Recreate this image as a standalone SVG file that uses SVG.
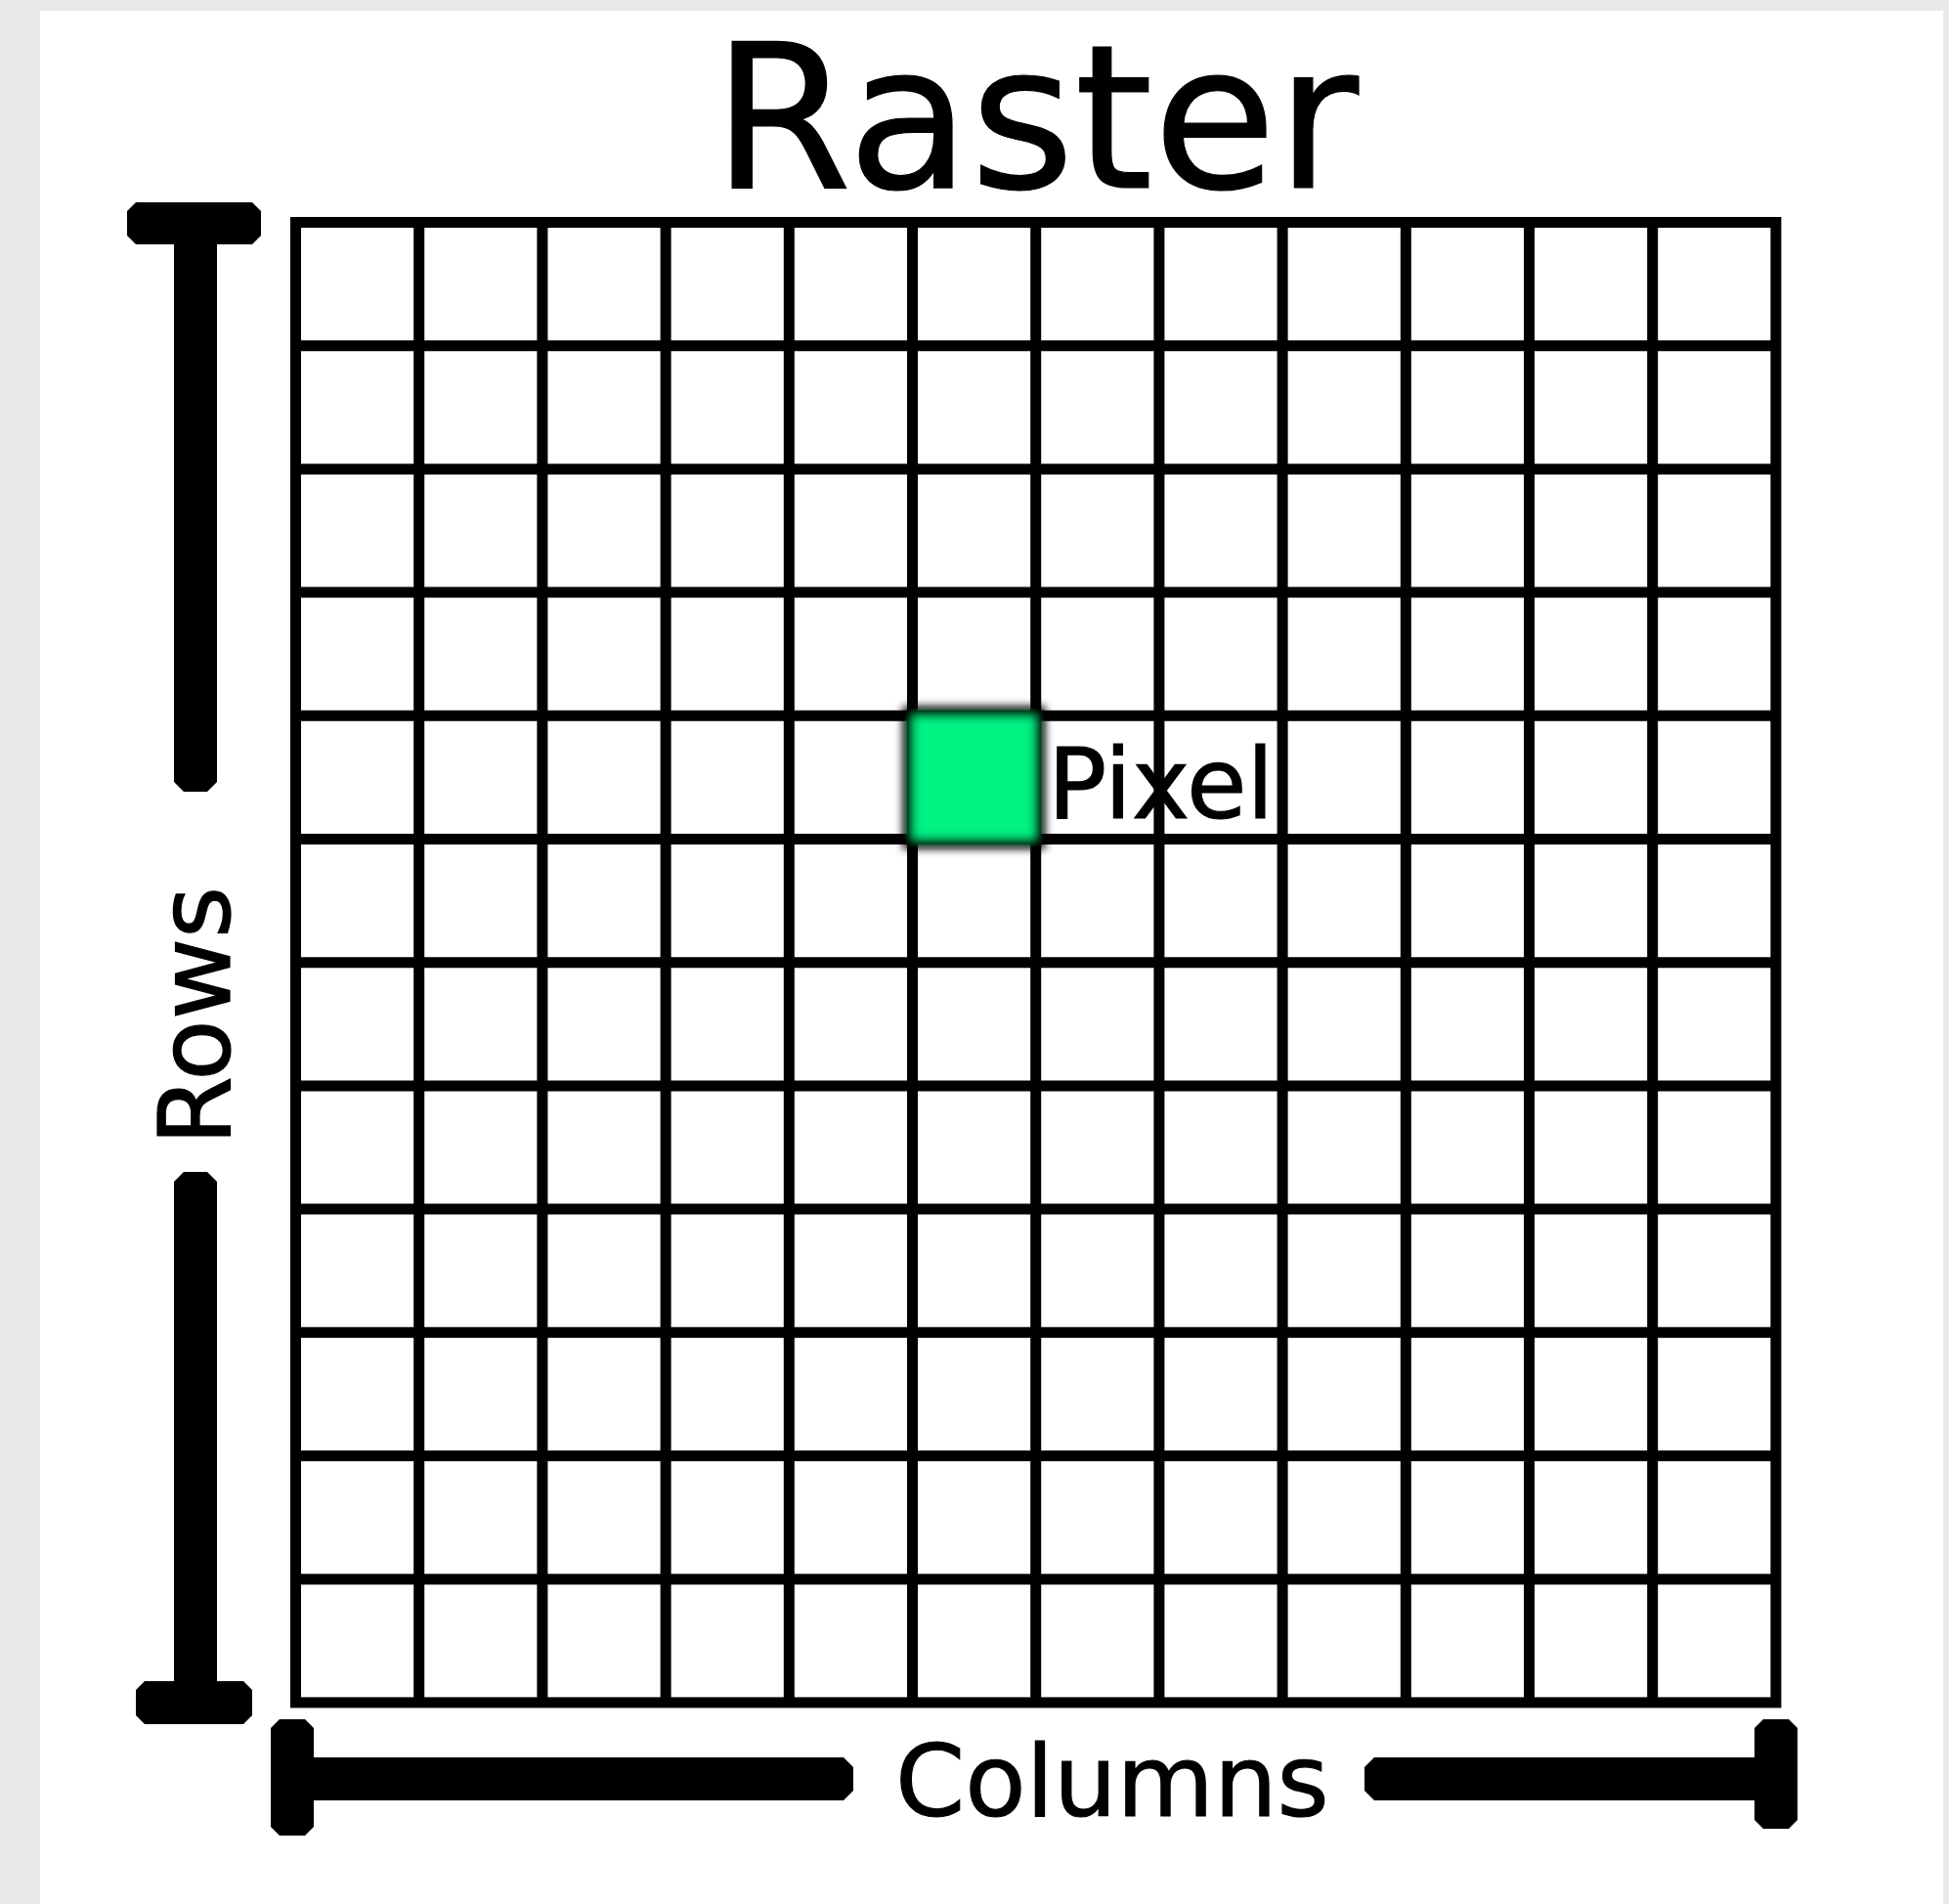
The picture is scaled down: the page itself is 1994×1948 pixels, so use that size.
<svg xmlns="http://www.w3.org/2000/svg" width="1994" height="1948" viewBox="0 0 1994 1948">
  <defs>
    <style>
      .lbl { font-family: "DejaVu Sans", "Liberation Sans", sans-serif; fill: #000; stroke: #000; stroke-width: 1.2; }
      .grid { fill: none; stroke: #000; stroke-width: 11; }
      .bar { fill: #000; stroke: none; }
    </style>
    <filter id="soft" x="-20%" y="-20%" width="140%" height="140%">
      <feGaussianBlur stdDeviation="4.5"/>
    </filter>
  </defs>
  <rect x="0" y="0" width="1994" height="1948" fill="#e9e9e9"/>
  <rect x="41" y="11" width="1947" height="1937" fill="#ffffff"/>

  <g id="title">
    <text class="lbl" x="729" y="192" font-size="205">Raster</text>
  </g>

  <g id="grid">
    <rect class="grid" x="302.5" y="227.5" width="1514.4" height="1514.4"/>
    <path class="grid" d="M428.7 227.5V1741.9 M554.9 227.5V1741.9 M681.1 227.5V1741.9 M807.3 227.5V1741.9 M933.5 227.5V1741.9 M1059.7 227.5V1741.9 M1185.9 227.5V1741.9 M1312.1 227.5V1741.9 M1438.3 227.5V1741.9 M1564.5 227.5V1741.9 M1690.7 227.5V1741.9 M302.5 353.7H1816.9 M302.5 479.9H1816.9 M302.5 606.1H1816.9 M302.5 732.3H1816.9 M302.5 858.5H1816.9 M302.5 984.7H1816.9 M302.5 1110.9H1816.9 M302.5 1237.1H1816.9 M302.5 1363.3H1816.9 M302.5 1489.5H1816.9 M302.5 1615.7H1816.9"/>
  </g>

  <g id="pixel">
    <rect x="929" y="728" width="135" height="135" fill="#00f283" stroke="#000" stroke-width="11" filter="url(#soft)"/>
  </g>

  <g id="pixel-label">
    <text class="lbl" x="1072" y="837" font-size="100">Pixel</text>
  </g>

  <g id="connectors">
    <g id="rows-bar">
      <polygon class="bar" points="139,207 258,207 267,216 267,241 258,250 139,250 130,241 130,216"/>
      <polygon class="bar" points="178,250 222,250 222,800 212,810 188,810 178,800"/>
      <polygon class="bar" points="188,1199 212,1199 222,1209 222,1720 178,1720 178,1209"/>
      <polygon class="bar" points="148,1720 249,1720 258,1729 258,1755 249,1764 148,1764 139,1755 139,1729"/>
    </g>
    <g id="columns-bar">
      <polygon class="bar" points="286,1759 312,1759 321,1768 321,1869 312,1878 286,1878 277,1869 277,1768"/>
      <polygon class="bar" points="321,1798 863,1798 873,1808 873,1832 863,1842 321,1842"/>
      <polygon class="bar" points="1406,1798 1795,1798 1795,1842 1406,1842 1396,1832 1396,1808"/>
      <polygon class="bar" points="1804,1759 1830,1759 1839,1768 1839,1862 1830,1871 1804,1871 1795,1862 1795,1768"/>
    </g>
  </g>

  <g id="rows-label">
    <text class="lbl" font-size="102" transform="translate(235 1172) rotate(-90)">Rows</text>
  </g>

  <g id="columns-label">
    <text class="lbl" x="916" y="1858" font-size="102">Columns</text>
  </g>
</svg>
